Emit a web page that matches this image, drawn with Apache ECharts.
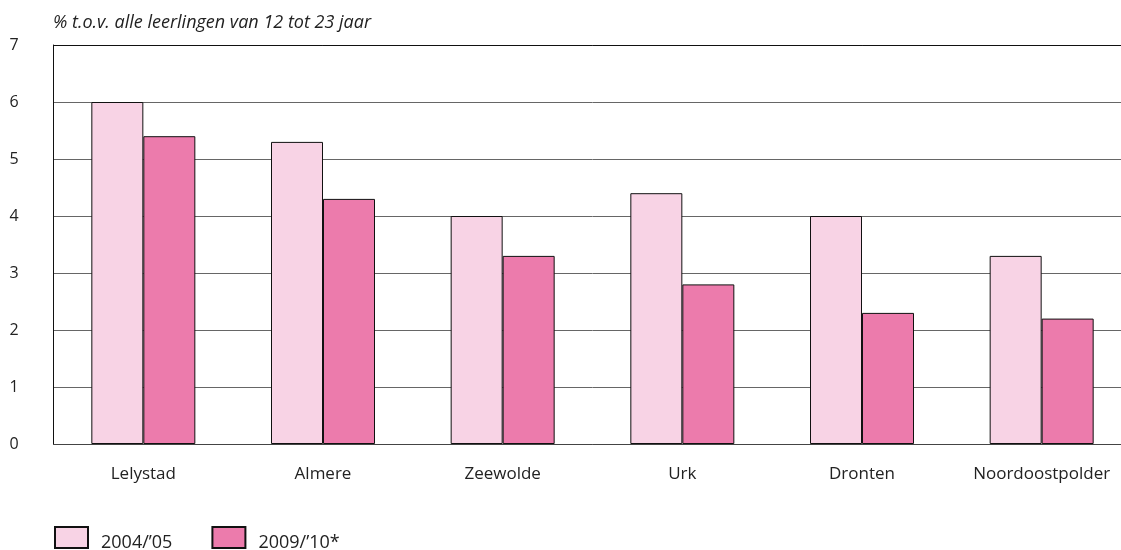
<!DOCTYPE html>
<html><head><meta charset="utf-8">
<script src="https://cdn.jsdelivr.net/npm/echarts@6/dist/echarts.min.js"></script>
<style>html,body{margin:0;padding:0;background:#fff;overflow:hidden;width:1121px;height:550px}#c{width:1140px;height:550px}</style>
</head><body><div id="c"></div>
<script>
const categories = ['Lelystad','Almere','Zeewolde','Urk','Dronten','Noordoostpolder'];
const series2004 = [6.0, 5.3, 4.0, 4.4, 4.0, 3.3];
const series2009 = [5.4, 4.3, 3.3, 2.8, 2.3, 2.2];
const seriesNames = ['2004/\u201905', '2009/\u201910*'];
const yTicks = [0,1,2,3,4,5,6,7];
const FONT = 'Open Sans';
const chart = echarts.init(document.getElementById('c'), null, {renderer:'canvas'});
chart.setOption({
  animation:false,
  textStyle:{fontFamily:FONT},
  title:{text:'% t.o.v. alle leerlingen van 12 tot 23 jaar', left:48, top:9,
    textStyle:{fontFamily:FONT, fontStyle:'italic', fontWeight:'normal', fontSize:18, color:'#222'}},
  legend:{left:54, top:526, padding:0, itemWidth:33, itemHeight:21, itemGap:39,
    icon:'rect', formatter:'{a|{name}}',
    textStyle:{fontFamily:FONT, fontSize:18, color:'#222',
      rich:{a:{fontFamily:FONT, fontSize:18, color:'#222', padding:[10,0,0,8]}}},
    data:seriesNames},
  grid:{left:53.5, width:1078, top:45, bottom:106, containLabel:false},
  xAxis:[{type:'category', data:categories, axisTick:{show:false},
    axisLine:{lineStyle:{color:'#444', width:1}},
    axisLabel:{fontFamily:FONT, fontSize:17, color:'#222', margin:22, interval:0}},
    {type:'category', position:'top', data:categories, axisTick:{show:false},
    axisLabel:{show:false}, axisLine:{show:true, lineStyle:{color:'#111', width:1}}}],
  yAxis:{type:'value', min:yTicks[0], max:yTicks[yTicks.length-1], interval:1,
    axisLine:{show:true, lineStyle:{color:'#111'}}, axisTick:{show:false},
    splitLine:{lineStyle:{color:'#666', width:1}},
    axisLabel:{fontFamily:FONT, fontSize:16, color:'#222', align:'left', margin:44}},
  series:[
    {name:seriesNames[0], type:'bar', data:series2004, barWidth:52, barGap:'0%',
      itemStyle:{color:'#F8D3E5', borderColor:'#111', borderWidth:1}},
    {name:seriesNames[1], type:'bar', data:series2009, barWidth:52,
      itemStyle:{color:'#EC7BAC', borderColor:'#111', borderWidth:1}}
  ]
});
</script></body></html>
